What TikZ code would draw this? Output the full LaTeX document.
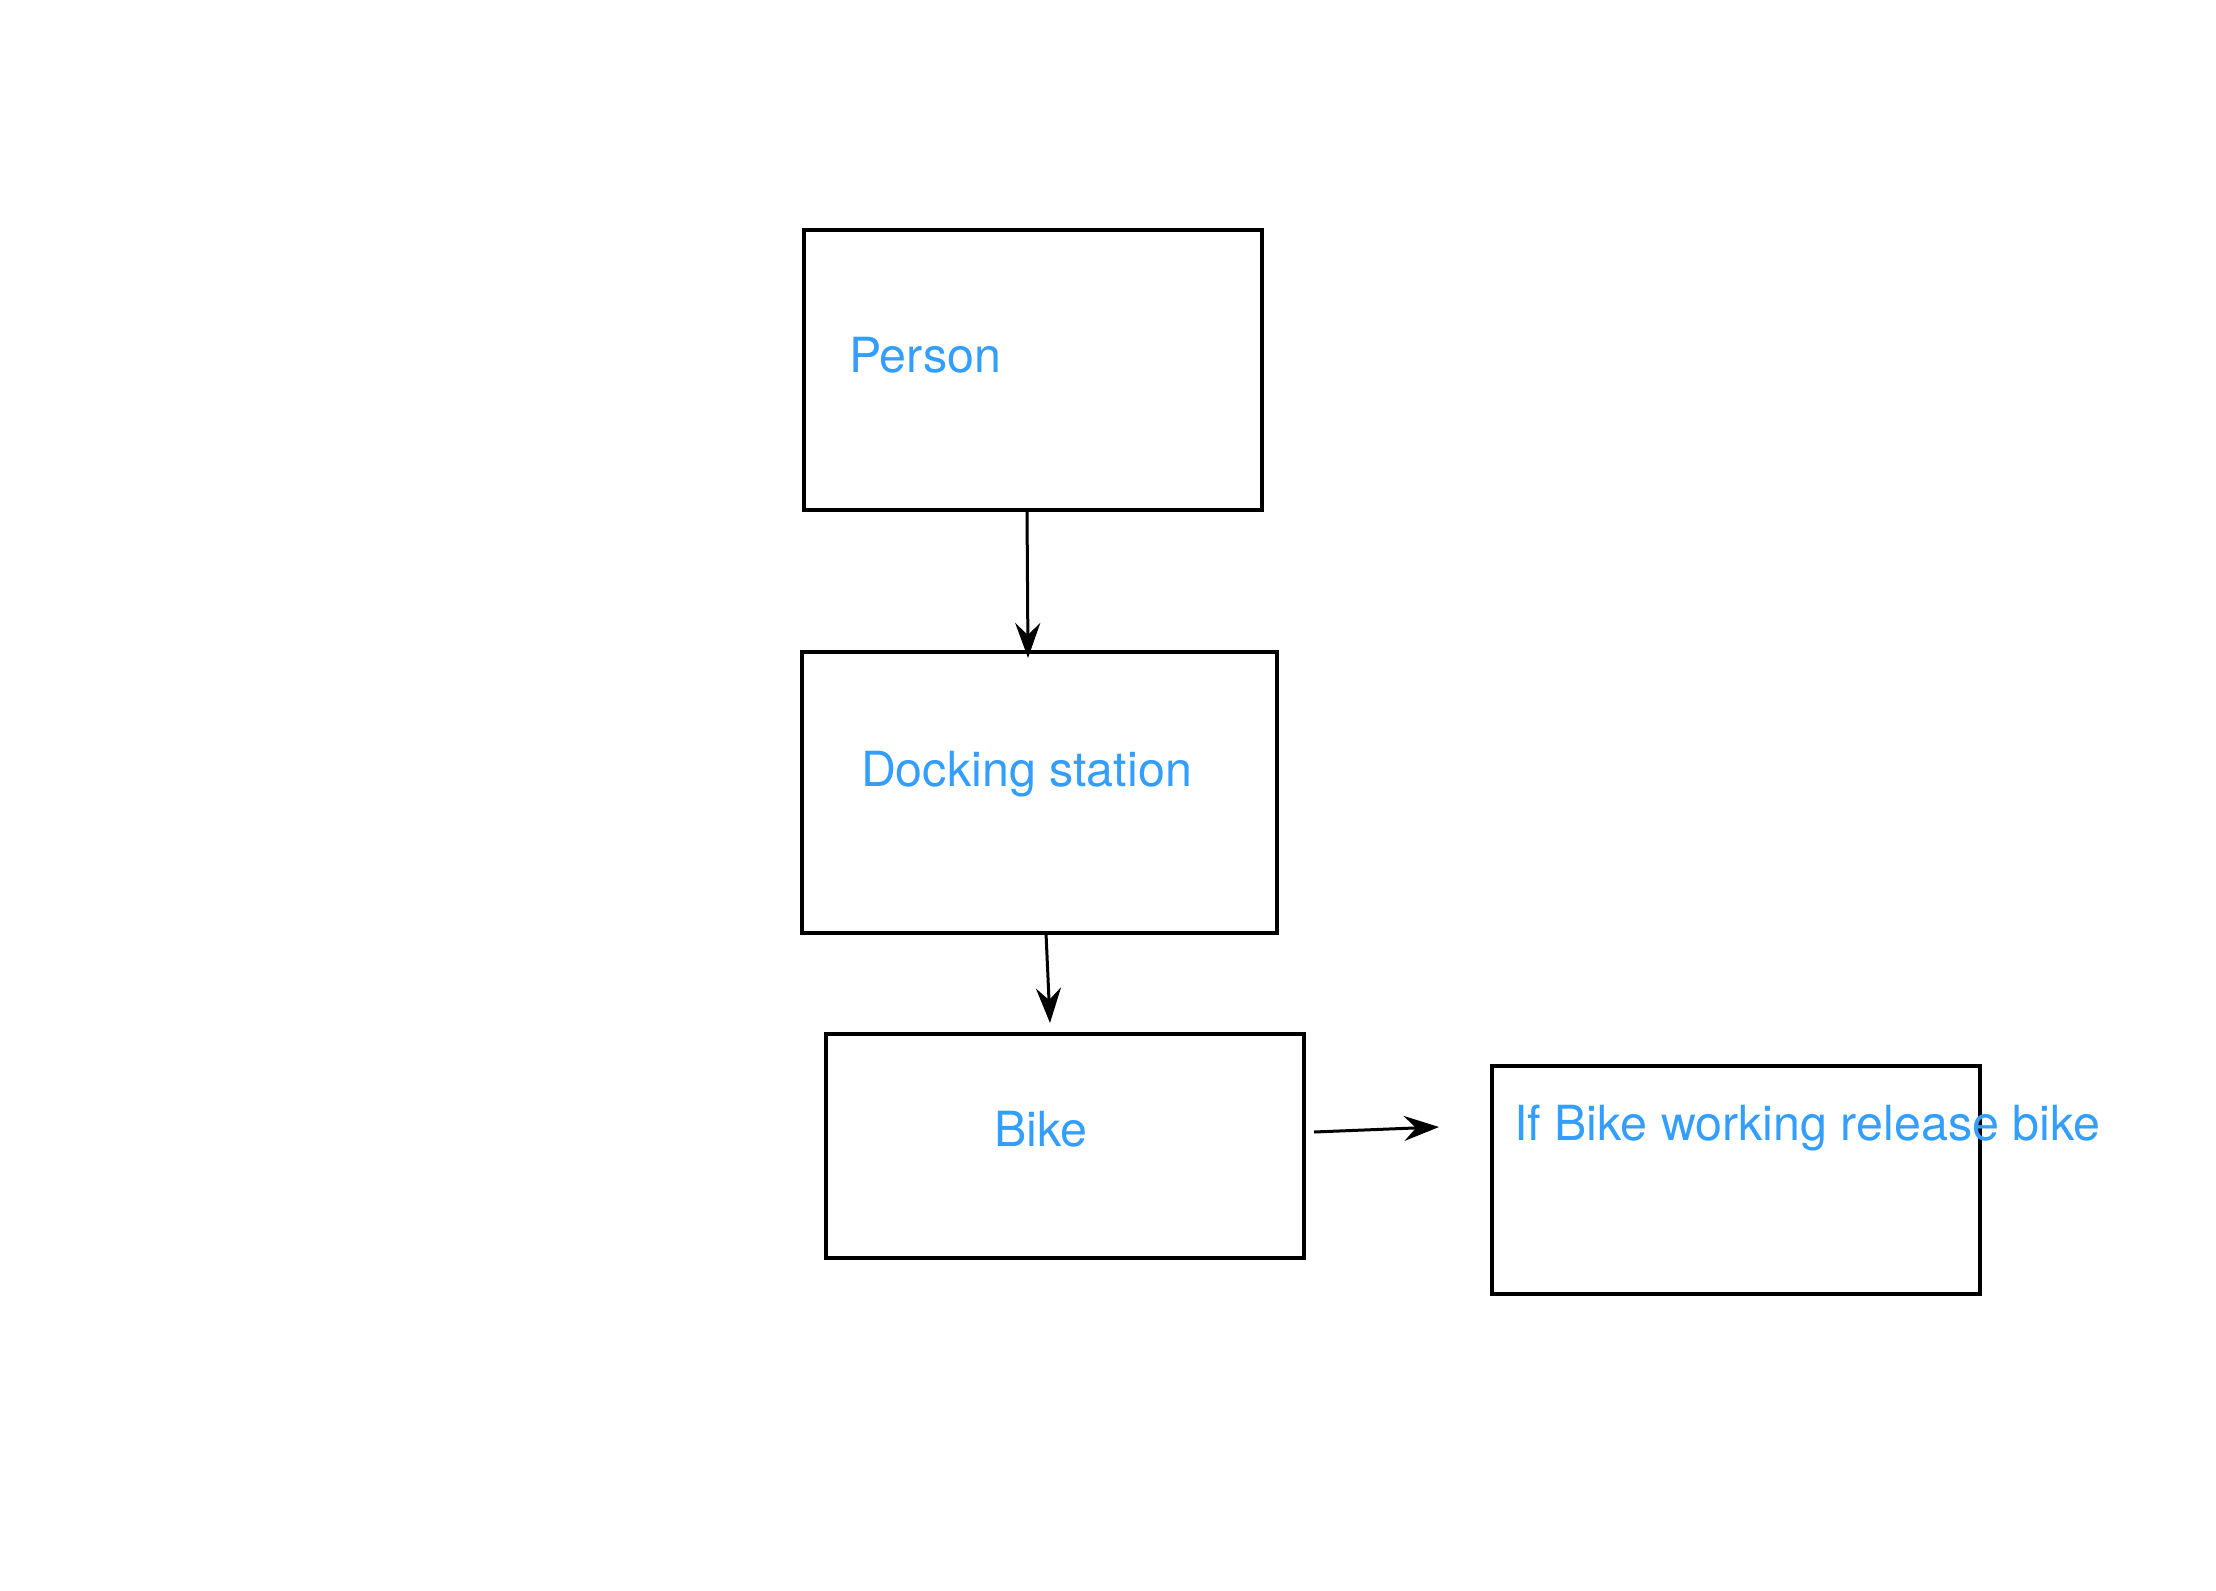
\documentclass[tikz,border=0pt]{standalone}
\usepackage{fontspec}
\setmainfont{TeX Gyre Heros}
\usetikzlibrary{arrows.meta}
\definecolor{labelblue}{RGB}{52,158,255}
\begin{document}
\begin{tikzpicture}[x=0.5pt,y=-0.5pt,
  box/.style={draw=black,line width=1.6pt,rectangle,inner sep=0pt,outer sep=0pt,fill=none},
  lbl/.style={anchor=base west,inner sep=0pt,outer sep=0pt,text=labelblue,font=\fontsize{24.2}{28}\selectfont},
  conn/.style={draw=black,line width=1.5pt,-{Stealth[length=17.5pt,width=12.5pt,inset=6pt]}}]
\useasboundingbox (0,0) rectangle (2216,1590);
\node[box,minimum width=229pt,minimum height=140pt] (person) at (1033,370) {};
\node[box,minimum width=237.5pt,minimum height=140.5pt] (dock) at (1039.5,792.5) {};
\node[box,minimum width=239pt,minimum height=112pt] (bike) at (1065,1146) {};
\node[box,minimum width=244pt,minimum height=114pt] (rel) at (1736,1180) {};
\node[lbl] (tperson) at (849,372) {Person};
\node[lbl] (tdock) at (861,786) {Docking station};
\node[lbl] (tbike) at (994,1146) {Bike};
\node[lbl] (trel) at (1514,1140) {If Bike working release bike};
\draw[conn] ([xshift=-3pt]person.south) -- ([xshift=-5.75pt,yshift=-3pt]dock.north);
\draw[conn] ([xshift=3.25pt]dock.south) -- ([xshift=-7.5pt,yshift=5.5pt]bike.north);
\draw[conn] ([xshift=5pt,yshift=7pt]bike.east) -- ([xshift=-26.5pt,yshift=26.5pt]rel.west);
\end{tikzpicture}
\end{document}
